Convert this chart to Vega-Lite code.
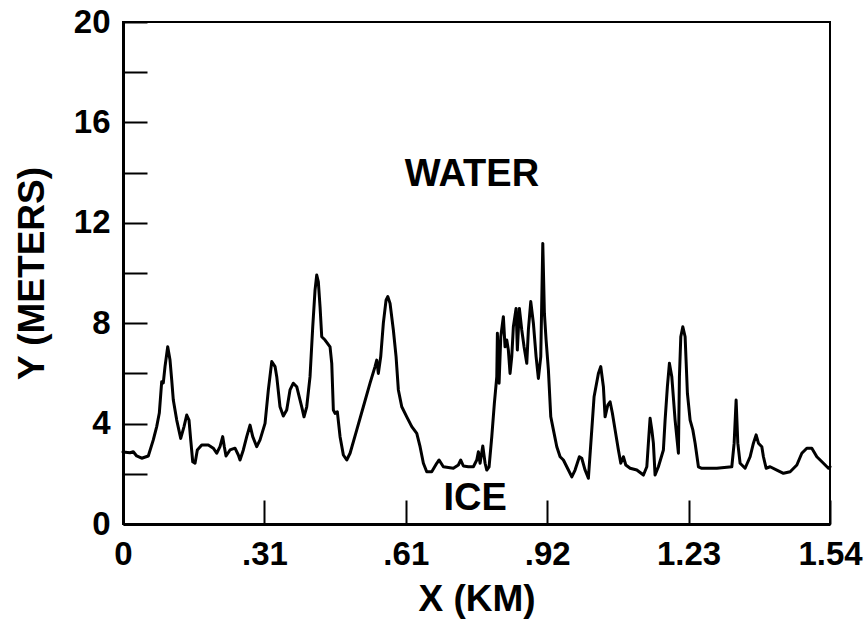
{
  "$schema": "https://vega.github.io/schema/vega-lite/v6.json",
  "width": 707,
  "height": 502,
  "autosize": {"type": "none"},
  "padding": {"left": 123, "top": 22, "right": 37, "bottom": 104},
  "background": "white",
  "config": {
    "view": {"stroke": "black", "strokeWidth": 2},
    "axis": {
      "grid": false,
      "domainColor": "black",
      "domainWidth": 3,
      "tickColor": "black",
      "tickWidth": 2,
      "tickSize": -24,
      "labelFont": "Liberation Sans",
      "labelFontWeight": "bold",
      "labelFontSize": 33,
      "labelColor": "black",
      "titleFont": "Liberation Sans",
      "titleFontWeight": "bold",
      "titleFontSize": 37,
      "titleColor": "black"
    }
  },
  "datasets": {
    "profile": [
      {"x": 0.0, "y": 2.87}, {"x": 0.0153, "y": 2.84}, {"x": 0.0224, "y": 2.88}, {"x": 0.0298, "y": 2.71},
      {"x": 0.0407, "y": 2.62}, {"x": 0.0551, "y": 2.71}, {"x": 0.066, "y": 3.35}, {"x": 0.0734, "y": 3.88},
      {"x": 0.0791, "y": 4.42}, {"x": 0.0843, "y": 5.67}, {"x": 0.0878, "y": 5.62}, {"x": 0.0915, "y": 6.27},
      {"x": 0.0974, "y": 7.06}, {"x": 0.1024, "y": 6.53}, {"x": 0.1061, "y": 5.74}, {"x": 0.1096, "y": 4.94},
      {"x": 0.117, "y": 4.14}, {"x": 0.1257, "y": 3.41}, {"x": 0.1329, "y": 3.88}, {"x": 0.1388, "y": 4.34},
      {"x": 0.1438, "y": 4.14}, {"x": 0.1475, "y": 3.35}, {"x": 0.1519, "y": 2.48}, {"x": 0.1569, "y": 2.42},
      {"x": 0.1619, "y": 2.95}, {"x": 0.1715, "y": 3.15}, {"x": 0.1858, "y": 3.15}, {"x": 0.1967, "y": 3.02},
      {"x": 0.2041, "y": 2.82}, {"x": 0.2113, "y": 3.08}, {"x": 0.2172, "y": 3.48}, {"x": 0.2207, "y": 3.08},
      {"x": 0.2244, "y": 2.71}, {"x": 0.2331, "y": 2.95}, {"x": 0.244, "y": 3.02}, {"x": 0.2512, "y": 2.75},
      {"x": 0.2549, "y": 2.55}, {"x": 0.2621, "y": 2.95}, {"x": 0.2695, "y": 3.48}, {"x": 0.2767, "y": 3.94},
      {"x": 0.2826, "y": 3.48}, {"x": 0.2913, "y": 3.08}, {"x": 0.2985, "y": 3.35}, {"x": 0.3094, "y": 4.01},
      {"x": 0.3166, "y": 5.34}, {"x": 0.324, "y": 6.47}, {"x": 0.3312, "y": 6.27}, {"x": 0.3349, "y": 5.87},
      {"x": 0.342, "y": 4.67}, {"x": 0.3492, "y": 4.3}, {"x": 0.3566, "y": 4.54}, {"x": 0.3638, "y": 5.34},
      {"x": 0.371, "y": 5.61}, {"x": 0.3784, "y": 5.47}, {"x": 0.3893, "y": 4.67}, {"x": 0.3943, "y": 4.27},
      {"x": 0.4002, "y": 4.67}, {"x": 0.4074, "y": 5.87}, {"x": 0.4133, "y": 7.86}, {"x": 0.4183, "y": 9.32},
      {"x": 0.422, "y": 9.92}, {"x": 0.4255, "y": 9.65}, {"x": 0.4292, "y": 8.66}, {"x": 0.4329, "y": 7.46},
      {"x": 0.4401, "y": 7.33}, {"x": 0.451, "y": 7.06}, {"x": 0.4547, "y": 6.4}, {"x": 0.4582, "y": 4.54},
      {"x": 0.4619, "y": 4.41}, {"x": 0.4669, "y": 4.47}, {"x": 0.4728, "y": 3.48}, {"x": 0.48, "y": 2.75},
      {"x": 0.4874, "y": 2.55}, {"x": 0.4946, "y": 2.82}, {"x": 0.5092, "y": 3.75}, {"x": 0.5235, "y": 4.67},
      {"x": 0.5381, "y": 5.61}, {"x": 0.549, "y": 6.27}, {"x": 0.5527, "y": 6.53}, {"x": 0.5562, "y": 6.0},
      {"x": 0.5614, "y": 6.67}, {"x": 0.5671, "y": 8.0}, {"x": 0.573, "y": 8.92}, {"x": 0.5767, "y": 9.06},
      {"x": 0.5817, "y": 8.79}, {"x": 0.5889, "y": 7.73}, {"x": 0.5948, "y": 6.67}, {"x": 0.5998, "y": 5.34},
      {"x": 0.6072, "y": 4.67}, {"x": 0.6181, "y": 4.27}, {"x": 0.629, "y": 3.88}, {"x": 0.6399, "y": 3.61},
      {"x": 0.6471, "y": 3.08}, {"x": 0.6543, "y": 2.42}, {"x": 0.6616, "y": 2.08}, {"x": 0.6725, "y": 2.08},
      {"x": 0.6834, "y": 2.42}, {"x": 0.6885, "y": 2.55}, {"x": 0.6978, "y": 2.28}, {"x": 0.7196, "y": 2.22},
      {"x": 0.7305, "y": 2.35}, {"x": 0.7357, "y": 2.55}, {"x": 0.7414, "y": 2.31}, {"x": 0.7523, "y": 2.28},
      {"x": 0.7632, "y": 2.28}, {"x": 0.7706, "y": 2.55}, {"x": 0.7741, "y": 2.88}, {"x": 0.7778, "y": 2.42},
      {"x": 0.7837, "y": 3.11}, {"x": 0.7887, "y": 2.42}, {"x": 0.7924, "y": 2.15}, {"x": 0.7974, "y": 2.28},
      {"x": 0.8033, "y": 3.48}, {"x": 0.8089, "y": 4.81}, {"x": 0.8142, "y": 5.87}, {"x": 0.8155, "y": 7.6},
      {"x": 0.8192, "y": 5.61}, {"x": 0.8229, "y": 7.46}, {"x": 0.8285, "y": 8.26}, {"x": 0.8322, "y": 7.06},
      {"x": 0.8359, "y": 7.33}, {"x": 0.8394, "y": 6.93}, {"x": 0.8431, "y": 6.0}, {"x": 0.8468, "y": 6.67},
      {"x": 0.8503, "y": 7.86}, {"x": 0.8562, "y": 8.59}, {"x": 0.859, "y": 6.93}, {"x": 0.8634, "y": 8.59},
      {"x": 0.8686, "y": 7.73}, {"x": 0.8736, "y": 7.06}, {"x": 0.8795, "y": 6.4}, {"x": 0.883, "y": 7.73},
      {"x": 0.8882, "y": 8.86}, {"x": 0.8939, "y": 8.0}, {"x": 0.8998, "y": 6.67}, {"x": 0.9048, "y": 5.8},
      {"x": 0.91, "y": 6.67}, {"x": 0.9144, "y": 11.18}, {"x": 0.9179, "y": 8.39}, {"x": 0.9216, "y": 7.33},
      {"x": 0.9266, "y": 6.14}, {"x": 0.9318, "y": 4.27}, {"x": 0.9375, "y": 3.75}, {"x": 0.9449, "y": 3.08},
      {"x": 0.9521, "y": 2.68}, {"x": 0.9593, "y": 2.55}, {"x": 0.9702, "y": 2.15}, {"x": 0.9776, "y": 1.88},
      {"x": 0.9847, "y": 2.15}, {"x": 0.9941, "y": 2.68}, {"x": 0.9993, "y": 2.62}, {"x": 1.0065, "y": 2.15},
      {"x": 1.0137, "y": 1.82}, {"x": 1.0211, "y": 3.75}, {"x": 1.0261, "y": 5.07}, {"x": 1.0355, "y": 6.0},
      {"x": 1.0407, "y": 6.27}, {"x": 1.0464, "y": 5.47}, {"x": 1.0501, "y": 4.27}, {"x": 1.056, "y": 4.74},
      {"x": 1.061, "y": 4.87}, {"x": 1.066, "y": 4.41}, {"x": 1.0719, "y": 3.75}, {"x": 1.0791, "y": 2.95},
      {"x": 1.0843, "y": 2.42}, {"x": 1.09, "y": 2.68}, {"x": 1.0952, "y": 2.35}, {"x": 1.1046, "y": 2.22},
      {"x": 1.1192, "y": 2.15}, {"x": 1.1336, "y": 1.95}, {"x": 1.141, "y": 2.28}, {"x": 1.1444, "y": 3.22},
      {"x": 1.1481, "y": 4.21}, {"x": 1.1519, "y": 3.75}, {"x": 1.1553, "y": 3.22}, {"x": 1.159, "y": 1.95},
      {"x": 1.1662, "y": 2.28}, {"x": 1.1771, "y": 2.95}, {"x": 1.1808, "y": 4.14}, {"x": 1.1858, "y": 5.47},
      {"x": 1.1902, "y": 6.4}, {"x": 1.1954, "y": 5.87}, {"x": 1.2026, "y": 4.14}, {"x": 1.2098, "y": 2.82},
      {"x": 1.212, "y": 5.87}, {"x": 1.215, "y": 7.46}, {"x": 1.2194, "y": 7.86}, {"x": 1.2244, "y": 7.46},
      {"x": 1.2294, "y": 5.21}, {"x": 1.2353, "y": 4.14}, {"x": 1.2412, "y": 3.75}, {"x": 1.2462, "y": 3.22},
      {"x": 1.2534, "y": 2.28}, {"x": 1.2608, "y": 2.22}, {"x": 1.2935, "y": 2.22}, {"x": 1.3261, "y": 2.28},
      {"x": 1.3312, "y": 3.22}, {"x": 1.3355, "y": 4.94}, {"x": 1.3392, "y": 3.22}, {"x": 1.3442, "y": 2.42},
      {"x": 1.3551, "y": 2.22}, {"x": 1.366, "y": 2.68}, {"x": 1.3732, "y": 3.22}, {"x": 1.3791, "y": 3.55},
      {"x": 1.3841, "y": 3.22}, {"x": 1.3915, "y": 3.08}, {"x": 1.395, "y": 2.68}, {"x": 1.4009, "y": 2.22},
      {"x": 1.4096, "y": 2.28}, {"x": 1.4242, "y": 2.15}, {"x": 1.4386, "y": 2.02}, {"x": 1.4532, "y": 2.08},
      {"x": 1.4678, "y": 2.35}, {"x": 1.4786, "y": 2.82}, {"x": 1.4895, "y": 3.02}, {"x": 1.5004, "y": 3.02},
      {"x": 1.5113, "y": 2.68}, {"x": 1.5257, "y": 2.42}, {"x": 1.5366, "y": 2.22}, {"x": 1.54, "y": 2.28}
    ],
    "labels": [
      {"x": 0.76, "y": 13.9, "text": "WATER"},
      {"x": 0.767, "y": 0.98, "text": "ICE"}
    ]
  },
  "layer": [
    {
      "data": {"name": "profile"},
      "mark": {"type": "line", "color": "black", "strokeWidth": 3, "strokeJoin": "round", "strokeCap": "round"},
      "encoding": {
        "x": {
          "field": "x",
          "type": "quantitative",
          "title": "X (KM)",
          "scale": {"domain": [0, 1.54], "nice": false, "zero": false},
          "axis": {
            "values": [0, 0.308, 0.616, 0.924, 1.232, 1.54],
            "labelExpr": "datum.value < 0.1 ? '0' : datum.value < 0.4 ? '.31' : datum.value < 0.7 ? '.61' : datum.value < 1 ? '.92' : datum.value < 1.3 ? '1.23' : '1.54'",
            "labelPadding": 38,
            "labelFlush": false,
            "titlePadding": 10
          }
        },
        "y": {
          "field": "y",
          "type": "quantitative",
          "title": "Y (METERS)",
          "scale": {"domain": [0, 20], "nice": false},
          "axis": {
            "values": [0, 2, 4, 6, 8, 10, 12, 14, 16, 18, 20],
            "labelExpr": "datum.value % 4 == 0 ? datum.label : ''",
            "labelPadding": 37,
            "titlePadding": 22
          }
        }
      }
    },
    {
      "data": {"name": "labels"},
      "mark": {"type": "text", "font": "Liberation Sans", "fontWeight": "bold", "fontSize": 38, "color": "black", "baseline": "middle", "align": "center"},
      "encoding": {
        "x": {"field": "x", "type": "quantitative"},
        "y": {"field": "y", "type": "quantitative"},
        "text": {"field": "text"}
      }
    }
  ]
}
